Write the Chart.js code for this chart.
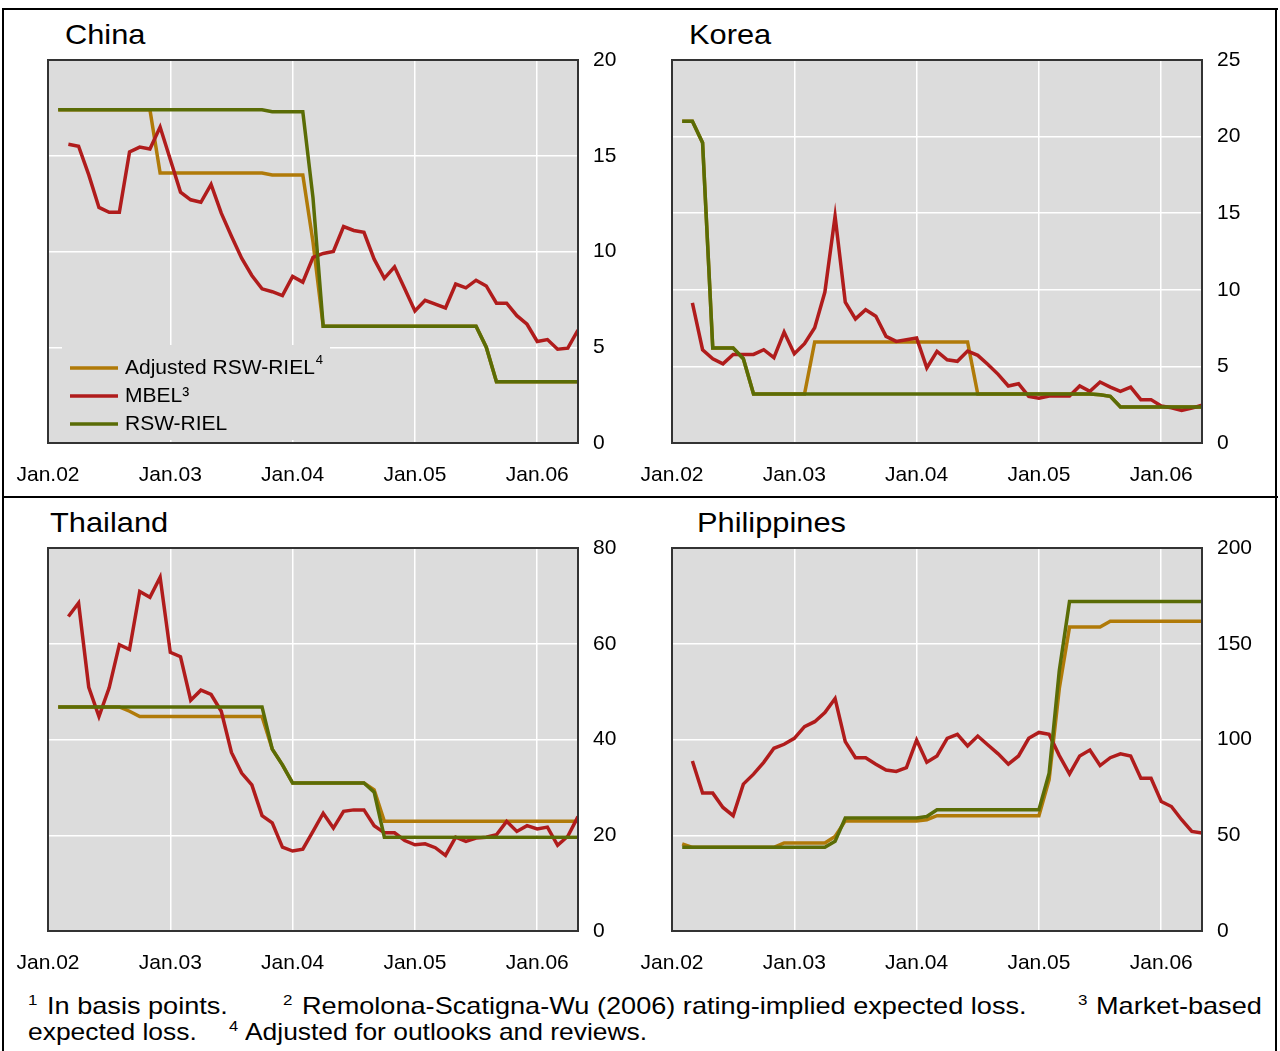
<!DOCTYPE html>
<html>
<head>
<meta charset="utf-8">
<script src="https://cdn.jsdelivr.net/npm/chart.js@4/dist/chart.umd.min.js"></script>
<style>
  body { margin: 0; background: #fff; font-family: "Liberation Sans", Arial, sans-serif; }
  #page { position: relative; width: 1280px; height: 1051px; overflow: hidden; }
  .rule { position: absolute; background: #000; z-index: 5; }
  .title { position: absolute; font-size: 28px; line-height: 28px; transform: scaleX(1.1); transform-origin: left; white-space: nowrap; }
  canvas { position: absolute; }
  .note { position: absolute; font-size: 24px; line-height: 24px; white-space: nowrap; transform: scaleX(1.13); transform-origin: left; }
  .note.l2 { transform: scaleX(1.1); }
  .note sup { font-size: 15px; vertical-align: 9px; line-height: 0; }
</style>
</head>
<body>
<div id="page">
  <div class="rule" style="left:2px;top:8px;width:1276px;height:2px"></div>
  <div class="rule" style="left:2px;top:496px;width:1276px;height:2px"></div>
  <div class="rule" style="left:2px;top:8px;width:2px;height:1043px"></div>
  <div class="rule" style="left:1275px;top:8px;width:2px;height:1043px"></div>

  <div class="title" style="left:65px;top:21px">China</div>
  <div class="title" style="left:689px;top:21px">Korea</div>
  <div class="title" style="left:50px;top:509px">Thailand</div>
  <div class="title" style="left:697px;top:509px">Philippines</div>

  <canvas id="china" width="640" height="480" style="left:0px;top:10px"></canvas>
  <canvas id="korea" width="640" height="480" style="left:624px;top:10px"></canvas>
  <canvas id="thailand" width="640" height="480" style="left:0px;top:498px"></canvas>
  <canvas id="philippines" width="640" height="480" style="left:624px;top:498px"></canvas>

  <div class="note" style="left:28px;top:994px"><sup>1</sup></div>
  <div class="note" style="left:47px;top:994px">In basis points.</div>
  <div class="note" style="left:283px;top:994px"><sup>2</sup></div>
  <div class="note" style="left:302px;top:994px">Remolona-Scatigna-Wu (2006) rating-implied expected loss.</div>
  <div class="note" style="left:1078px;top:994px"><sup>3</sup></div>
  <div class="note" style="left:1096px;top:994px">Market-based</div>
  <div class="note l2" style="left:28px;top:1020px">expected loss.</div>
  <div class="note l2" style="left:229px;top:1020px"><sup>4</sup></div>
  <div class="note l2" style="left:245px;top:1020px">Adjusted for outlooks and reviews.</div>
</div>

<script>
Chart.defaults.font.family = "'Liberation Sans', Arial, sans-serif";
Chart.defaults.color = "#000";

// axe des x : mois depuis janvier 2002
const xTickLabels = ["Jan.02", "Jan.03", "Jan.04", "Jan.05", "Jan.06"];
const xTickMonths = [0, 12, 24, 36, 48];
const lastMonth = 52;

const seriesNames = ["Adjusted RSW-RIEL", "MBEL³", "RSW-RIEL"];
const seriesColors = ["#b07a08", "#b01c1c", "#5a6c06"];

// China (début : février 2002 pour RSW, mars 2002 pour MBEL)
const chinaAdj = [
  17.4, 17.4, 17.4, 17.4, 17.4, 17.4, 17.4, 17.4, 17.4, 17.4,
  14.1, 14.1, 14.1, 14.1, 14.1, 14.1, 14.1, 14.1, 14.1, 14.1,
  14.1, 14.0, 14.0, 14.0, 14.0, 10.5, 6.1, 6.1, 6.1, 6.1,
  6.1, 6.1, 6.1, 6.1, 6.1, 6.1, 6.1, 6.1, 6.1, 6.1,
  6.1, 6.1, 5.0, 3.2, 3.2, 3.2, 3.2, 3.2, 3.2, 3.2,
  3.2, 3.2
];
const chinaMbel = [
  15.6, 15.5, 14.0, 12.3, 12.05, 12.05, 15.2, 15.45, 15.35, 16.5,
  14.8, 13.1, 12.7, 12.57, 13.5, 12.0, 10.8, 9.65, 8.75, 8.05,
  7.9, 7.7, 8.7, 8.4, 9.7, 9.9, 10.0, 11.3, 11.1, 11.0,
  9.6, 8.6, 9.2, 8.05, 6.9, 7.45, 7.25, 7.05, 8.3, 8.1,
  8.5, 8.2, 7.3, 7.3, 6.65, 6.2, 5.3, 5.4, 4.9, 4.95,
  5.9
];
const chinaRsw = [
  17.4, 17.4, 17.4, 17.4, 17.4, 17.4, 17.4, 17.4, 17.4, 17.4,
  17.4, 17.4, 17.4, 17.4, 17.4, 17.4, 17.4, 17.4, 17.4, 17.4,
  17.4, 17.3, 17.3, 17.3, 17.3, 12.8, 6.1, 6.1, 6.1, 6.1,
  6.1, 6.1, 6.1, 6.1, 6.1, 6.1, 6.1, 6.1, 6.1, 6.1,
  6.1, 6.1, 5.0, 3.2, 3.2, 3.2, 3.2, 3.2, 3.2, 3.2,
  3.2, 3.2
];

// Korea
const koreaAdj = [
  21.0, 21.0, 19.6, 6.2, 6.2, 6.2, 5.5, 3.2, 3.2, 3.2,
  3.2, 3.2, 3.2, 6.6, 6.6, 6.6, 6.6, 6.6, 6.6, 6.6,
  6.6, 6.6, 6.6, 6.6, 6.6, 6.6, 6.6, 6.6, 6.6, 3.2,
  3.2, 3.2, 3.2, 3.2, 3.2, 3.2, 3.2, 3.2, 3.2, 3.2,
  3.2, 3.15, 3.05, 2.35, 2.35, 2.35, 2.35, 2.35, 2.35, 2.35,
  2.35, 2.35
];
const koreaMbel = [
  9.15, 6.09, 5.5, 5.17, 5.78, 5.78, 5.78, 6.09, 5.57, 7.24,
  5.83, 6.48, 7.52, 9.85, 14.8, 9.2, 8.1, 8.7, 8.28, 6.96,
  6.63, 6.74, 6.85, 4.9, 5.98, 5.43, 5.33, 6.0, 5.72, 5.13,
  4.48, 3.72, 3.87, 3.04, 2.93, 3.07, 3.07, 3.07, 3.72, 3.37,
  3.98, 3.65, 3.37, 3.65, 2.83, 2.83, 2.41, 2.3, 2.13, 2.28,
  2.46
];
const koreaRsw = [
  21.0, 21.0, 19.6, 6.2, 6.2, 6.2, 5.5, 3.2, 3.2, 3.2,
  3.2, 3.2, 3.2, 3.2, 3.2, 3.2, 3.2, 3.2, 3.2, 3.2,
  3.2, 3.2, 3.2, 3.2, 3.2, 3.2, 3.2, 3.2, 3.2, 3.2,
  3.2, 3.2, 3.2, 3.2, 3.2, 3.2, 3.2, 3.2, 3.2, 3.2,
  3.2, 3.15, 3.05, 2.35, 2.35, 2.35, 2.35, 2.35, 2.35, 2.35,
  2.35, 2.35
];

// Thailand
const thailandAdj = [
  46.8, 46.8, 46.8, 46.8, 46.8, 46.8, 46.8, 45.9, 44.8, 44.8,
  44.8, 44.8, 44.8, 44.8, 44.8, 44.8, 44.8, 44.8, 44.8, 44.8,
  44.8, 38.0, 34.7, 30.9, 30.9, 30.9, 30.9, 30.9, 30.9, 30.9,
  30.9, 29.5, 22.9, 22.9, 22.9, 22.9, 22.9, 22.9, 22.9, 22.9,
  22.9, 22.9, 22.9, 22.9, 22.9, 22.9, 22.9, 22.9, 22.9, 22.9,
  22.9, 22.9
];
const thailandMbel = [
  65.7, 68.5, 50.9, 44.8, 50.8, 59.8, 58.8, 70.9, 69.7, 73.9,
  58.2, 57.3, 48.2, 50.3, 49.4, 45.9, 37.3, 33.0, 30.5, 24.1,
  22.6, 17.5, 16.7, 17.1, 20.8, 24.6, 21.5, 25.0, 25.3, 25.3,
  22.0, 20.5, 20.5, 18.9, 18.0, 18.2, 17.4, 15.8, 19.6, 18.7,
  19.4, 19.6, 20.1, 22.9, 20.8, 22.0, 21.3, 21.7, 17.9, 19.8,
  23.9
];
const thailandRsw = [
  46.8, 46.8, 46.8, 46.8, 46.8, 46.8, 46.8, 46.8, 46.8, 46.8,
  46.8, 46.8, 46.8, 46.8, 46.8, 46.8, 46.8, 46.8, 46.8, 46.8,
  46.8, 38.0, 34.7, 30.9, 30.9, 30.9, 30.9, 30.9, 30.9, 30.9,
  30.9, 29.0, 19.6, 19.6, 19.6, 19.6, 19.6, 19.6, 19.6, 19.6,
  19.6, 19.6, 19.6, 19.6, 19.6, 19.6, 19.6, 19.6, 19.6, 19.6,
  19.6, 19.6
];

// Philippines
const philippinesAdj = [
  45.5, 43.7, 43.7, 43.7, 43.7, 43.7, 43.7, 43.7, 43.7, 43.7,
  46.0, 46.0, 46.0, 46.0, 46.0, 49.4, 57.5, 57.5, 57.5, 57.5,
  57.5, 57.5, 57.5, 57.5, 58.1, 60.2, 60.2, 60.2, 60.2, 60.2,
  60.2, 60.2, 60.2, 60.2, 60.2, 60.2, 79.0, 126.6, 158.7, 158.7,
  158.7, 158.7, 161.7, 161.7, 161.7, 161.7, 161.7, 161.7, 161.7, 161.7,
  161.7, 161.7
];
const philippinesMbel = [
  88.8, 72.0, 72.0, 64.5, 60.2, 76.7, 81.9, 88.1, 95.4, 97.5,
  100.6, 106.7, 109.3, 114.1, 121.4, 98.9, 90.5, 90.5, 87.1, 84.1,
  83.3, 85.3, 99.7, 88.1, 91.4, 100.6, 102.7, 96.6, 101.8, 97.1,
  92.5, 87.1, 91.4, 100.6, 103.7, 102.7, 91.6, 82.0, 91.4, 94.5,
  86.4, 90.5, 92.5, 91.4, 79.8, 79.8, 67.6, 65.0, 58.1, 52.0,
  51.2
];
const philippinesRsw = [
  43.7, 43.7, 43.7, 43.7, 43.7, 43.7, 43.7, 43.7, 43.7, 43.7,
  43.7, 43.7, 43.7, 43.7, 43.7, 46.8, 59.0, 59.0, 59.0, 59.0,
  59.0, 59.0, 59.0, 59.0, 59.8, 63.3, 63.3, 63.3, 63.3, 63.3,
  63.3, 63.3, 63.3, 63.3, 63.3, 63.3, 82.4, 136.0, 172.0, 172.0,
  172.0, 172.0, 172.0, 172.0, 172.0, 172.0, 172.0, 172.0, 172.0, 172.0,
  172.0, 172.0
];

// Les séries RSW commencent en février 2002, MBEL en mars 2002
const rswStart = 1;
const mbelStart = 2;

function enPoints(debut, valeurs) {
  return valeurs.map((v, i) => ({ x: debut + i, y: v }));
}

// Fond gris et cadre de la zone de tracé
const cadrePlugin = {
  id: "cadre",
  beforeDraw(chart) {
    const { ctx, chartArea: a } = chart;
    ctx.save();
    ctx.fillStyle = "#dcdcdc";
    ctx.fillRect(a.left, a.top, a.width, a.height);
    ctx.restore();
  },
  afterDraw(chart) {
    const { ctx, chartArea: a } = chart;
    ctx.save();
    ctx.strokeStyle = "#333";
    ctx.lineWidth = 2;
    ctx.strokeRect(a.left, a.top, a.width, a.height);
    ctx.restore();
  },
};

// Légende dessinée dans le graphique de la Chine
const legendePlugin = {
  id: "legende",
  afterDatasetsDraw(chart) {
    const ctx = chart.ctx;
    ctx.save();
    ctx.fillStyle = "#dcdcdc";
    ctx.fillRect(62, 335, 268, 95);
    ctx.font = "21px 'Liberation Sans', Arial, sans-serif";
    ctx.textBaseline = "middle";
    for (let i = 0; i < seriesNames.length; i++) {
      const y = 358 + i * 28;
      ctx.strokeStyle = seriesColors[i];
      ctx.lineWidth = 3.5;
      ctx.beginPath();
      ctx.moveTo(70, y);
      ctx.lineTo(118, y);
      ctx.stroke();
      ctx.fillStyle = "#000";
      ctx.fillText(seriesNames[i], 125, y);
      if (i === 0) {
        const w = ctx.measureText(seriesNames[i]).width;
        ctx.font = "13px 'Liberation Sans', Arial, sans-serif";
        ctx.fillText("4", 125 + w + 1, y - 8);
        ctx.font = "21px 'Liberation Sans', Arial, sans-serif";
      }
    }
    ctx.restore();
  },
};

function creerPanneau(id, yMax, yStep, adj, mbel, rsw, avecLegende) {
  const jeux = [adj, mbel, rsw];
  const debuts = [rswStart, mbelStart, rswStart];
  const ordres = [2, 1, 0];
  const datasets = jeux.map((valeurs, i) => ({
    label: seriesNames[i],
    data: enPoints(debuts[i], valeurs),
    borderColor: seriesColors[i],
    borderWidth: 3.5,
    pointRadius: 0,
    tension: 0,
    order: ordres[i],
  }));

  new Chart(document.getElementById(id), {
    type: "line",
    data: { datasets },
    options: {
      responsive: false,
      animation: false,
      layout: { padding: { left: 48, right: 12, top: 50, bottom: 2 } },
      plugins: { legend: { display: false }, tooltip: { enabled: false } },
      scales: {
        x: {
          type: "linear",
          min: 0,
          max: lastMonth,
          afterBuildTicks(scale) {
            scale.ticks = xTickMonths.map((v) => ({ value: v }));
          },
          afterFit(scale) {
            scale.height = 45;
          },
          ticks: {
            autoSkip: false,
            maxRotation: 0,
            padding: 8,
            font: { size: 21 },
            callback: (v) => xTickLabels[xTickMonths.indexOf(v)],
          },
          // petites marques invisibles : elles décalent les étiquettes vers le bas
          grid: { color: "#fff", lineWidth: 1.5, drawTicks: true, tickLength: 12, tickColor: "rgba(0,0,0,0)" },
          border: { display: false },
        },
        y: {
          position: "right",
          min: 0,
          max: yMax,
          afterFit(scale) {
            scale.width = 50;
          },
          ticks: { stepSize: yStep, padding: 15, font: { size: 21 } },
          grid: { color: "#fff", lineWidth: 1.5, drawTicks: false },
          border: { display: false },
        },
      },
    },
    plugins: avecLegende ? [cadrePlugin, legendePlugin] : [cadrePlugin],
  });
}

creerPanneau("china", 20, 5, chinaAdj, chinaMbel, chinaRsw, true);
creerPanneau("korea", 25, 5, koreaAdj, koreaMbel, koreaRsw, false);
creerPanneau("thailand", 80, 20, thailandAdj, thailandMbel, thailandRsw, false);
creerPanneau("philippines", 200, 50, philippinesAdj, philippinesMbel, philippinesRsw, false);
</script>
</body>
</html>
